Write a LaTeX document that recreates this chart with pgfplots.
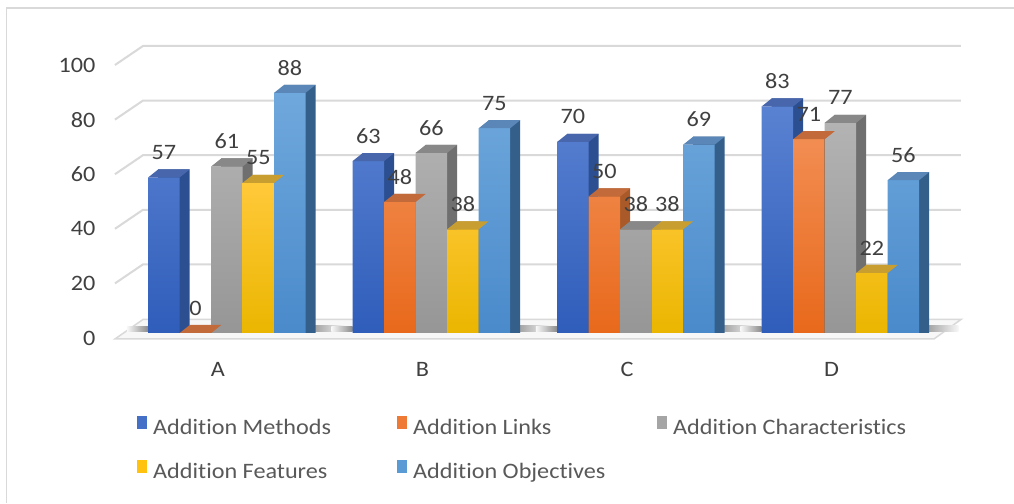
\documentclass[border=0pt]{standalone}
\usepackage{fontspec}
\setmainfont{Carlito}[FakeStretch=1.1, Ligatures=NoCommon]
\usepackage{pgfplots}
\usepackage{pgfplotstable}
\pgfplotsset{compat=1.18}
\definecolor{gridc}{HTML}{D9D9D9}
\definecolor{floorc}{HTML}{F7F7F7}
\definecolor{labc}{HTML}{404040}
\definecolor{legc}{HTML}{595959}
\definecolor{shad}{HTML}{8A8A8A}
\definecolor{methT}{HTML}{5A82D2}\definecolor{methB}{HTML}{2F5DBA}\definecolor{methS}{HTML}{2C4F91}\definecolor{methP}{HTML}{4866AC}\definecolor{methL}{HTML}{4470C8}
\definecolor{linkT}{HTML}{F28D52}\definecolor{linkB}{HTML}{E8691B}\definecolor{linkS}{HTML}{A95A28}\definecolor{linkP}{HTML}{C26A3A}\definecolor{linkL}{HTML}{EE7A36}
\definecolor{charT}{HTML}{B3B3B3}\definecolor{charB}{HTML}{969696}\definecolor{charS}{HTML}{6F6F6F}\definecolor{charP}{HTML}{888888}\definecolor{charL}{HTML}{A5A5A5}
\definecolor{featT}{HTML}{FFC93A}\definecolor{featB}{HTML}{EBB600}\definecolor{featS}{HTML}{B08A22}\definecolor{featP}{HTML}{C89E30}\definecolor{featL}{HTML}{FFC20E}
\definecolor{objT}{HTML}{6FA8DC}\definecolor{objB}{HTML}{4A8ACB}\definecolor{objS}{HTML}{335F8A}\definecolor{objP}{HTML}{5A86B8}\definecolor{objL}{HTML}{5B9BD5}
\pgfplotstableread{
cat meth links char feat obj
0 57 0 61 55 88
1 63 48 66 38 75
2 70 50 38 38 69
3 83 71 77 22 56
}\data
\pgfdeclareplotmark{topface}{%
  \pgfpathmoveto{\pgfqpoint{-15.75pt}{0pt}}%
  \pgfpathlineto{\pgfqpoint{15.75pt}{0pt}}%
  \pgfpathlineto{\pgfqpoint{25.75pt}{8pt}}%
  \pgfpathlineto{\pgfqpoint{-5.75pt}{8pt}}%
  \pgfpathclose\pgfusepathqfill}
\pgfplotsset{
  leg/.style={legend image code/.code={\pgfsetfillcolor{#1}\pgfpathrectangle{\pgfqpoint{0pt}{0pt}}{\pgfqpoint{10pt}{13pt}}\pgfusepathqfill}},
  backbar/.style={ybar, bar width=31.5pt, draw=none, fill=#1, forget plot},
  frontbar/.style n args={4}{ybar, bar width=31.5pt, draw=none, top color=#1, bottom color=#2,
     bar shift=#3, nodes near coords, every node near coord/.append style={xshift=#3}, leg=#4},
  topbar/.style 2 args={only marks, mark=topface, mark options={xshift=#2, fill=#1, draw=none}, forget plot},
}
\begin{document}
\begin{tikzpicture}[x=1pt,y=1pt]
\useasboundingbox (0,0) rectangle (1014,503);
\fill[white] (0,0) rectangle (1014,503);
\draw[gridc, line width=1.5pt] (6.5,0) -- (6.5,495) -- (1014,495);
\begin{axis}[
  at={(114.5pt,170pt)}, anchor=south west,
  scale only axis, width=818pt, height=273pt,
  xmin=-0.55, xmax=3.45, ymin=0, ymax=100,
  clip=false,
  axis line style={draw=none}, tick style={draw=none},
  xtick={0,1,2,3}, xticklabels={A,B,C,D},
  ytick={0,20,40,60,80,100},
  /pgf/number format/assume math mode=true,
  tick label style={font=\fontsize{22}{26}\selectfont, text=labc},
  yticklabel style={anchor=east, inner sep=0pt, xshift=-19pt, yshift=-5pt},
  xticklabel style={anchor=center, inner sep=0pt, yshift=-36pt, xshift=-9pt},
  every node near coord/.append style={anchor=center, yshift=25pt, font=\fontsize{22}{26}\selectfont, text=labc},
  legend columns=3,
  legend style={at={(0.0275,-0.304)}, anchor=north west, draw=none, fill=none, inner sep=0pt,
    font=\fontsize{22}{26}\selectfont, text=legc, row sep=22pt,
    nodes={inner sep=0pt, text height=14pt, text depth=4pt},
    /tikz/every odd column/.append style={column sep=6pt}},
]
% floor
\filldraw[fill=floorc, draw=gridc, line width=1.5pt]
  ([yshift=-6pt]axis cs:-0.5477,0) -- ([yshift=13.5pt]axis cs:-0.4108,0) --
  ([yshift=13.5pt]axis cs:3.589,0) -- ([yshift=-6pt]axis cs:3.457,0) -- cycle;
% gridlines
\pgfplotsinvokeforeach{20,40,60,80,100}{
  \draw[gridc, line width=2pt] ([yshift=-5pt]axis cs:-0.5477,#1) -- ([yshift=14pt]axis cs:-0.4108,#1) -- ([yshift=14pt]axis cs:3.589,#1);
}
% soft shadows on the floor
\pgfplotsinvokeforeach{0,1,2,3}{
  \shade[left color=floorc, right color=shad] ([xshift=-100pt,yshift=1pt]axis cs:#1,0) rectangle ([xshift=-78.75pt,yshift=6pt]axis cs:#1,0);
  \shade[left color=shad, right color=floorc] ([xshift=78.75pt,yshift=1pt]axis cs:#1,0) rectangle ([xshift=118pt,yshift=7pt]axis cs:#1,0);
}
% bars
\addplot[backbar=methS, bar shift=-53pt] table[x=cat, y expr=\thisrow{meth}+2.93]{\data};
\addplot[frontbar={methT}{methB}{-63pt}{methL}] table[x=cat, y=meth]{\data};
\addlegendentry{\makebox[244pt][l]{Addition Methods}}
\addplot[topbar={methP}{-63pt}] table[x=cat, y=meth]{\data};
\addplot[backbar=linkS, bar shift=-21.5pt] table[x=cat, y expr=\thisrow{links}+2.93]{\data};
\addplot[frontbar={linkT}{linkB}{-31.5pt}{linkL}] table[x=cat, y=links]{\data};
\addlegendentry{\makebox[244pt][l]{Addition Links}}
\addplot[topbar={linkP}{-31.5pt}] table[x=cat, y=links]{\data};
\addplot[backbar=charS, bar shift=10pt] table[x=cat, y expr=\thisrow{char}+2.93]{\data};
\addplot[frontbar={charT}{charB}{0pt}{charL}] table[x=cat, y=char]{\data};
\addlegendentry{Addition Characteristics}
\addplot[topbar={charP}{0pt}] table[x=cat, y=char]{\data};
\addplot[backbar=featS, bar shift=41.5pt] table[x=cat, y expr=\thisrow{feat}+2.93]{\data};
\addplot[frontbar={featT}{featB}{31.5pt}{featL}] table[x=cat, y=feat]{\data};
\addlegendentry{\makebox[244pt][l]{Addition Features}}
\addplot[topbar={featP}{31.5pt}] table[x=cat, y=feat]{\data};
\addplot[backbar=objS, bar shift=73pt] table[x=cat, y expr=\thisrow{obj}+2.93]{\data};
\addplot[frontbar={objT}{objB}{63pt}{objL}] table[x=cat, y=obj]{\data};
\addlegendentry{\makebox[244pt][l]{Addition Objectives}}
\addplot[topbar={objP}{63pt}] table[x=cat, y=obj]{\data};
\end{axis}
\end{tikzpicture}
\end{document}
